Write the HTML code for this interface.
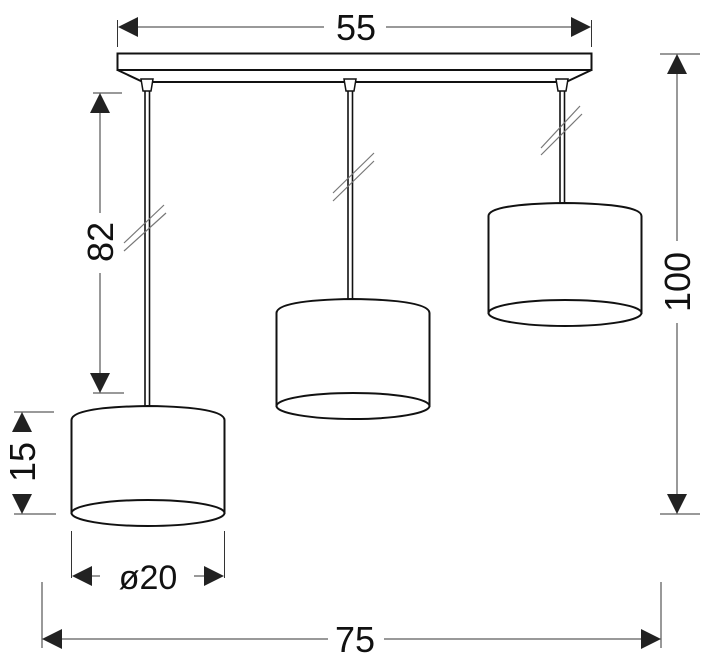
<!DOCTYPE html>
<html><head><meta charset="utf-8"><style>
html,body{margin:0;padding:0;background:#fff;}
svg{display:block;}
text{font-family:"Liberation Sans",Arial,sans-serif;fill:#111;}
</style></head><body>
<svg width="705" height="668" viewBox="0 0 705 668" xmlns="http://www.w3.org/2000/svg">
<g fill="none" stroke="#111">
<rect x="117.5" y="53.5" width="474" height="16.5" stroke-width="2"/>
<path d="M117.5 70 L143 82 L566 82 L591.5 70" stroke-width="2"/>
<g stroke-width="1.5" fill="#fff">
<path d="M141 79 L153 79 L151 91 L143 91 Z"/>
<path d="M344 79 L356 79 L354 91 L346 91 Z"/>
<path d="M556 79 L568 79 L566 91 L558 91 Z"/>
</g>
<g stroke-width="1.6">
<line x1="145" y1="91" x2="145" y2="409"/><line x1="149.5" y1="91" x2="149.5" y2="409"/>
<line x1="348" y1="91" x2="348" y2="301"/><line x1="352.5" y1="91" x2="352.5" y2="301"/>
<line x1="560" y1="91" x2="560" y2="206"/><line x1="564.5" y1="91" x2="564.5" y2="206"/>
</g>
<g stroke="#777" stroke-width="1.2">
<line x1="124" y1="243" x2="164" y2="205"/><line x1="124" y1="251" x2="166" y2="213"/>
<line x1="333" y1="193" x2="374" y2="153"/><line x1="333" y1="201" x2="374" y2="161"/>
<line x1="541" y1="148" x2="580" y2="106"/><line x1="541" y1="155" x2="582" y2="114"/>
</g>
<g stroke-width="2" fill="#fff">
<path d="M71.5 420 Q72 407 148 406 Q224 407 224.5 420 L224.5 513 L71.5 513 Z"/>
<ellipse cx="148" cy="513" rx="76.5" ry="13"/>
<path d="M276.5 313 Q277 300 353 299 Q429 300 429.5 313 L429.5 406 L276.5 406 Z"/>
<ellipse cx="353" cy="406" rx="76.5" ry="13"/>
<path d="M488.5 216 Q489 204 565 203 Q641 204 641.5 216 L641.5 313 L488.5 313 Z"/>
<ellipse cx="565" cy="313" rx="76.5" ry="13"/>
</g>
<g stroke="#333" stroke-width="1">
<line x1="117.5" y1="20" x2="117.5" y2="47"/><line x1="591.5" y1="20" x2="591.5" y2="47"/>
<line x1="130" y1="27" x2="324" y2="27"/><line x1="386" y1="27" x2="580" y2="27"/>
<line x1="93" y1="93" x2="122" y2="93"/><line x1="93" y1="393" x2="124" y2="393"/>
<line x1="100" y1="105" x2="100" y2="213"/><line x1="100" y1="273" x2="100" y2="380"/>
<line x1="14" y1="412" x2="54" y2="412"/><line x1="14" y1="514" x2="56" y2="514"/>
<line x1="660" y1="54" x2="700" y2="54"/><line x1="660" y1="514" x2="700" y2="514"/>
<line x1="677" y1="66" x2="677" y2="241"/><line x1="677" y1="323" x2="677" y2="500"/>
<line x1="71.5" y1="531" x2="71.5" y2="578"/><line x1="224.5" y1="531" x2="224.5" y2="578"/>
<line x1="85" y1="576" x2="100" y2="576"/><line x1="194" y1="576" x2="210" y2="576"/>
<line x1="42" y1="582" x2="42" y2="648"/><line x1="661" y1="582" x2="661" y2="648"/>
<line x1="55" y1="639" x2="328" y2="639"/><line x1="384" y1="639" x2="648" y2="639"/>
</g>
</g>
<g fill="#222">
<path d="M118 27 L138 17 L138 37 Z"/><path d="M591 27 L571 17 L571 37 Z"/>
<path d="M100 93 L90 113 L110 113 Z"/><path d="M100 393 L90 373 L110 373 Z"/>
<path d="M22 412 L12 432 L32 432 Z"/><path d="M22 514 L12 494 L32 494 Z"/>
<path d="M677 54 L667 74 L687 74 Z"/><path d="M677 514 L667 494 L687 494 Z"/>
<path d="M72 576 L92 566 L92 586 Z"/><path d="M224 576 L204 566 L204 586 Z"/>
<path d="M42 639 L62 629 L62 649 Z"/><path d="M661 639 L641 629 L641 649 Z"/>
</g>
<text x="356" y="40" font-size="36" text-anchor="middle">55</text>
<text x="355" y="652" font-size="36" text-anchor="middle">75</text>
<text x="148" y="589" font-size="34" text-anchor="middle">ø20</text>
<text transform="translate(113,242) rotate(-90)" font-size="36" text-anchor="middle">82</text>
<text transform="translate(35,462) rotate(-90)" font-size="36" text-anchor="middle">15</text>
<text transform="translate(690,282) rotate(-90)" font-size="36" text-anchor="middle">100</text>
</svg>
</body></html>
